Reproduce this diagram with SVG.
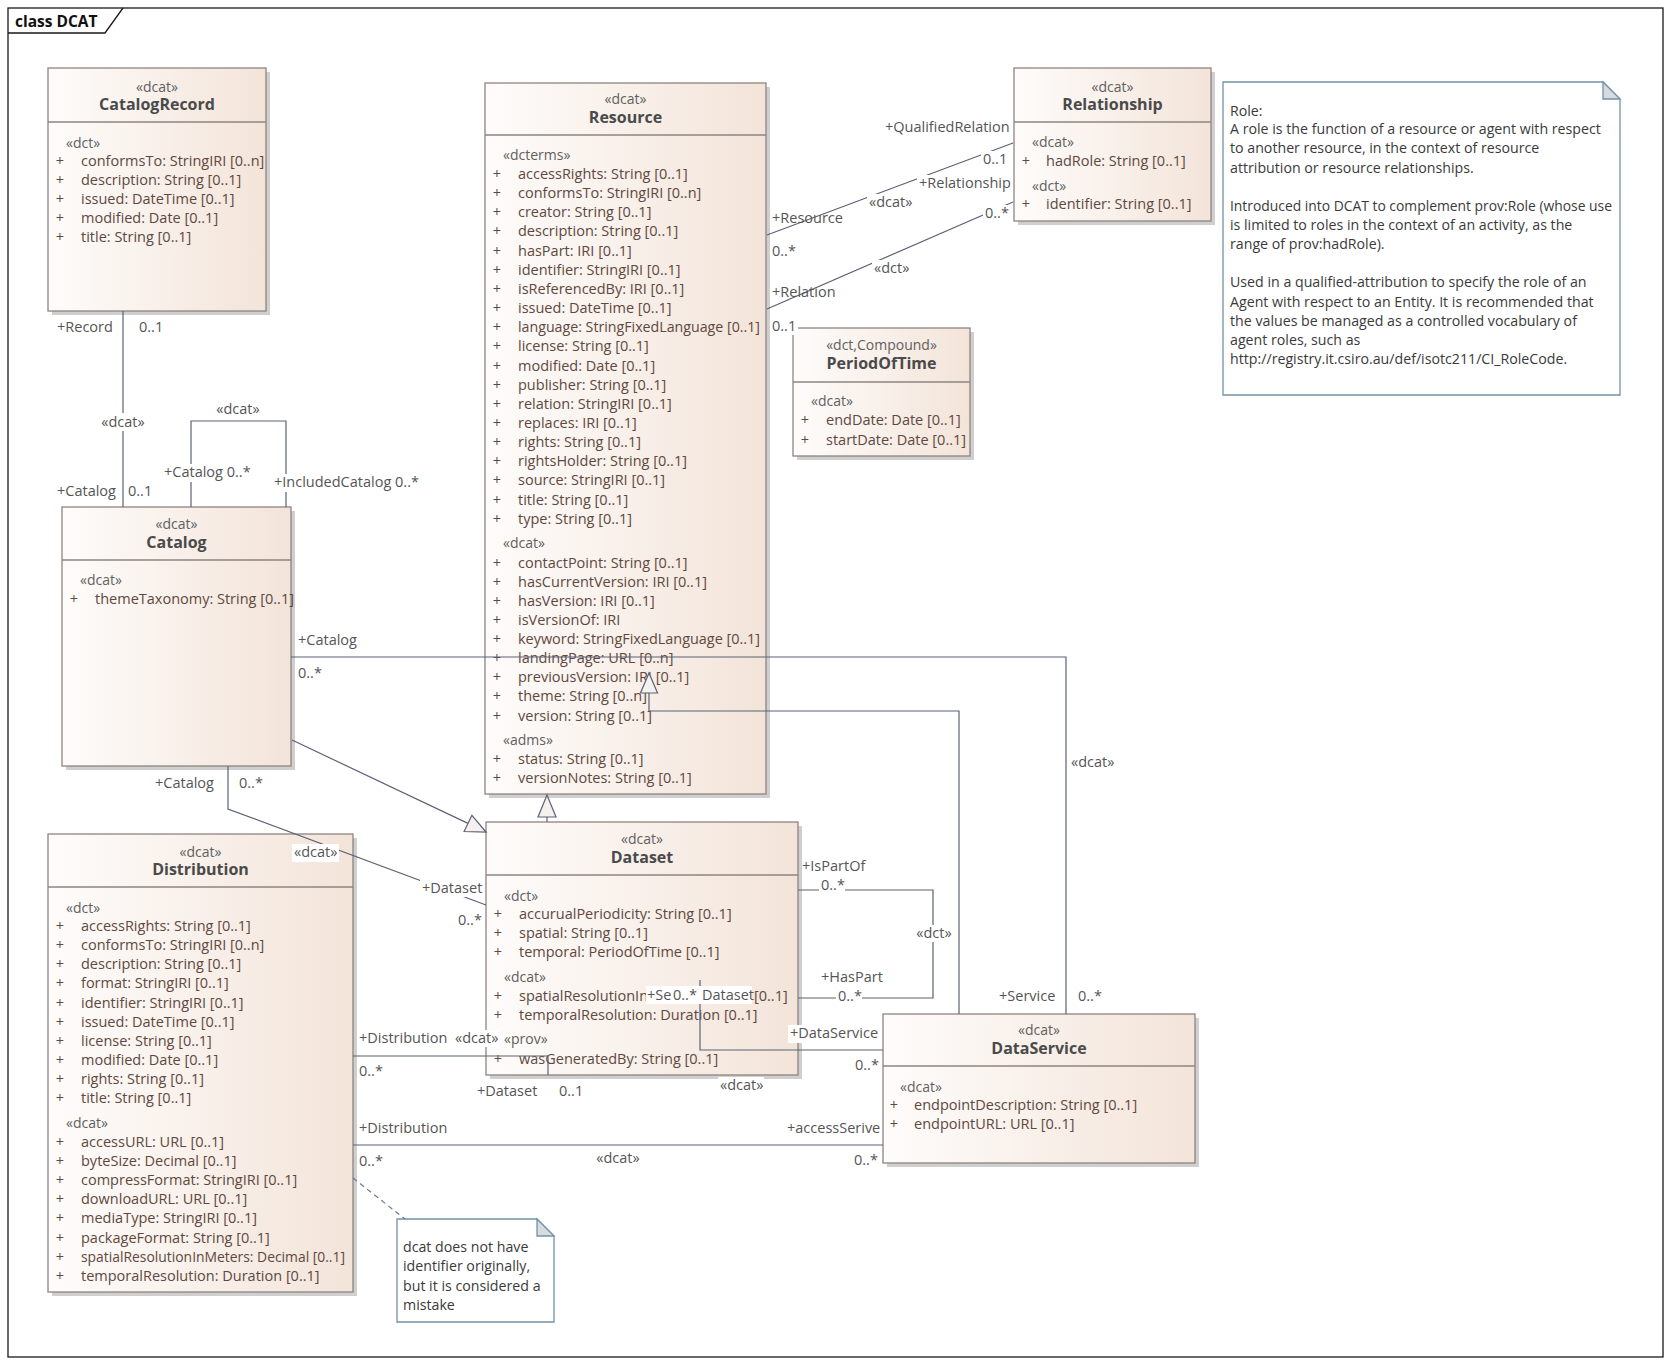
<svg xmlns="http://www.w3.org/2000/svg" width="1671" height="1365" viewBox="0 0 1671 1365">
<defs>
<linearGradient id="boxfill" x1="0" y1="0" x2="1" y2="0">
<stop offset="0" stop-color="#fefcfb"/>
<stop offset="1" stop-color="#f3e4d9"/>
</linearGradient>
<style>
text{font-family:"Open Sans","Liberation Sans",sans-serif;}
.box{fill:url(#boxfill);stroke:#8e8480;stroke-width:1.3;}
.shadow{fill:#cfcfcf;}
.div{stroke:#8e8480;stroke-width:1.3;}
.st{font-size:14px;fill:#5f5f5f;}
.stc{font-size:14px;fill:#5f5f5f;text-anchor:middle;}
.nm{font-size:16px;font-weight:bold;fill:#4a4a4a;text-anchor:middle;}
.at{font-size:14.5px;fill:#5e4840;}
.pl{font-size:14.5px;fill:#5e4840;text-anchor:middle;}
.lb{font-size:14.5px;fill:#555555;}
.lbc{font-size:14.5px;fill:#555555;text-anchor:middle;}
.nt{font-size:14.2px;fill:#3a3a3a;}
.conn{fill:none;stroke:#5b6275;stroke-width:1.2;}
.gen{fill:#f6f1ee;stroke:#5b6275;stroke-width:1.2;}
.dash{fill:none;stroke:#6a7890;stroke-width:1.2;stroke-dasharray:5,4;}
.note{fill:#ffffff;stroke:#7391a6;stroke-width:1.3;}
.fold{fill:#d5dbe1;stroke:#7391a6;stroke-width:1.3;}
.bg{fill:#ffffff;}
</style>
</defs>
<rect x="0" y="0" width="1671" height="1365" fill="#ffffff"/>

<g id="frame">
<rect x="8" y="8" width="1655" height="1349" fill="none" stroke="#1a1a1a" stroke-width="1.3"/>
<path d="M8,33 H105 L123,8" fill="none" stroke="#1a1a1a" stroke-width="1.3"/>
<text x="15" y="27" style="font-size:15.5px;font-weight:bold;fill:#111;">class DCAT</text>
</g>

<g id="node-CatalogRecord">
<rect class="shadow" x="52" y="72" width="218" height="243"/>
<rect class="box" x="48" y="68" width="218" height="243"/>
<line class="div" x1="48" y1="122" x2="266" y2="122"/>
<text class="stc" x="157" y="92">«dcat»</text>
<text class="nm" x="157" y="110">CatalogRecord</text>
<text class="st" x="66" y="148">«dct»</text>
<text class="pl" x="60" y="166">+</text><text class="at" x="81" y="166">conformsTo: StringIRI [0..n]</text>
<text class="pl" x="60" y="185">+</text><text class="at" x="81" y="185">description: String [0..1]</text>
<text class="pl" x="60" y="204">+</text><text class="at" x="81" y="204">issued: DateTime [0..1]</text>
<text class="pl" x="60" y="223">+</text><text class="at" x="81" y="223">modified: Date [0..1]</text>
<text class="pl" x="60" y="242">+</text><text class="at" x="81" y="242">title: String [0..1]</text>
</g>

<g id="node-Resource">
<rect class="shadow" x="489" y="87" width="281" height="711"/>
<rect class="box" x="485" y="83" width="281" height="711"/>
<line class="div" x1="485" y1="135" x2="766" y2="135"/>
<text class="stc" x="625.5" y="104">«dcat»</text>
<text class="nm" x="625.5" y="123">Resource</text>
<text class="st" x="503" y="160">«dcterms»</text>
<text class="pl" x="497" y="179">+</text><text class="at" x="518" y="179">accessRights: String [0..1]</text>
<text class="pl" x="497" y="198">+</text><text class="at" x="518" y="198">conformsTo: StringIRI [0..n]</text>
<text class="pl" x="497" y="217">+</text><text class="at" x="518" y="217">creator: String [0..1]</text>
<text class="pl" x="497" y="236">+</text><text class="at" x="518" y="236">description: String [0..1]</text>
<text class="pl" x="497" y="256">+</text><text class="at" x="518" y="256">hasPart: IRI [0..1]</text>
<text class="pl" x="497" y="275">+</text><text class="at" x="518" y="275">identifier: StringIRI [0..1]</text>
<text class="pl" x="497" y="294">+</text><text class="at" x="518" y="294">isReferencedBy: IRI [0..1]</text>
<text class="pl" x="497" y="313">+</text><text class="at" x="518" y="313">issued: DateTime [0..1]</text>
<text class="pl" x="497" y="332">+</text><text class="at" x="518" y="332" textLength="242" lengthAdjust="spacingAndGlyphs">language: StringFixedLanguage [0..1]</text>
<text class="pl" x="497" y="351">+</text><text class="at" x="518" y="351">license: String [0..1]</text>
<text class="pl" x="497" y="371">+</text><text class="at" x="518" y="371">modified: Date [0..1]</text>
<text class="pl" x="497" y="390">+</text><text class="at" x="518" y="390">publisher: String [0..1]</text>
<text class="pl" x="497" y="409">+</text><text class="at" x="518" y="409">relation: StringIRI [0..1]</text>
<text class="pl" x="497" y="428">+</text><text class="at" x="518" y="428">replaces: IRI [0..1]</text>
<text class="pl" x="497" y="447">+</text><text class="at" x="518" y="447">rights: String [0..1]</text>
<text class="pl" x="497" y="466">+</text><text class="at" x="518" y="466">rightsHolder: String [0..1]</text>
<text class="pl" x="497" y="485">+</text><text class="at" x="518" y="485">source: StringIRI [0..1]</text>
<text class="pl" x="497" y="505">+</text><text class="at" x="518" y="505">title: String [0..1]</text>
<text class="pl" x="497" y="524">+</text><text class="at" x="518" y="524">type: String [0..1]</text>
<text class="st" x="503" y="548">«dcat»</text>
<text class="pl" x="497" y="568">+</text><text class="at" x="518" y="568">contactPoint: String [0..1]</text>
<text class="pl" x="497" y="587">+</text><text class="at" x="518" y="587">hasCurrentVersion: IRI [0..1]</text>
<text class="pl" x="497" y="606">+</text><text class="at" x="518" y="606">hasVersion: IRI [0..1]</text>
<text class="pl" x="497" y="625">+</text><text class="at" x="518" y="625">isVersionOf: IRI</text>
<text class="pl" x="497" y="644">+</text><text class="at" x="518" y="644" textLength="242" lengthAdjust="spacingAndGlyphs">keyword: StringFixedLanguage [0..1]</text>
<text class="pl" x="497" y="663">+</text><text class="at" x="518" y="663">landingPage: URL [0..n]</text>
<text class="pl" x="497" y="682">+</text><text class="at" x="518" y="682">previousVersion: IRI [0..1]</text>
<text class="pl" x="497" y="701">+</text><text class="at" x="518" y="701">theme: String [0..n]</text>
<text class="pl" x="497" y="721">+</text><text class="at" x="518" y="721">version: String [0..1]</text>
<text class="st" x="503" y="745">«adms»</text>
<text class="pl" x="497" y="764">+</text><text class="at" x="518" y="764">status: String [0..1]</text>
<text class="pl" x="497" y="783">+</text><text class="at" x="518" y="783">versionNotes: String [0..1]</text>
</g>

<g id="node-Relationship">
<rect class="shadow" x="1018" y="72" width="197" height="153"/>
<rect class="box" x="1014" y="68" width="197" height="153"/>
<line class="div" x1="1014" y1="122" x2="1211" y2="122"/>
<text class="stc" x="1112.5" y="92">«dcat»</text>
<text class="nm" x="1112.5" y="110">Relationship</text>
<text class="st" x="1032" y="147">«dcat»</text>
<text class="pl" x="1026" y="166">+</text><text class="at" x="1046" y="166">hadRole: String [0..1]</text>
<text class="st" x="1032" y="191">«dct»</text>
<text class="pl" x="1026" y="209">+</text><text class="at" x="1046" y="209">identifier: String [0..1]</text>
</g>

<g id="node-RoleNote">
<path class="note" d="M1223,82 H1603 L1620,99 V395 H1223 Z"/>
<path class="fold" d="M1603,82 V99 H1620 Z"/>
<text class="nt" x="1230" y="116">Role:</text>
<text class="nt" x="1230" y="134">A role is the function of a resource or agent with respect</text>
<text class="nt" x="1230" y="153">to another resource, in the context of resource</text>
<text class="nt" x="1230" y="173">attribution or resource relationships.</text>
<text class="nt" x="1230" y="211" textLength="382" lengthAdjust="spacingAndGlyphs">Introduced into DCAT to complement prov:Role (whose use</text>
<text class="nt" x="1230" y="230">is limited to roles in the context of an activity, as the</text>
<text class="nt" x="1230" y="249">range of prov:hadRole).</text>
<text class="nt" x="1230" y="287">Used in a qualified-attribution to specify the role of an</text>
<text class="nt" x="1230" y="307">Agent with respect to an Entity. It is recommended that</text>
<text class="nt" x="1230" y="326">the values be managed as a controlled vocabulary of</text>
<text class="nt" x="1230" y="345">agent roles, such as</text>
<text class="nt" x="1230" y="364">http://registry.it.csiro.au/def/isotc211/CI_RoleCode.</text>
</g>

<g id="node-PeriodOfTime">
<rect class="shadow" x="797" y="332" width="177" height="128"/>
<rect class="box" x="793" y="328" width="177" height="128"/>
<line class="div" x1="793" y1="382" x2="970" y2="382"/>
<text class="stc" x="881.5" y="350">«dct,Compound»</text>
<text class="nm" x="881.5" y="369">PeriodOfTime</text>
<text class="st" x="811" y="406">«dcat»</text>
<text class="pl" x="805" y="425">+</text><text class="at" x="826" y="425">endDate: Date [0..1]</text>
<text class="pl" x="805" y="445">+</text><text class="at" x="826" y="445">startDate: Date [0..1]</text>
</g>

<g id="node-Catalog">
<rect class="shadow" x="66" y="511" width="229" height="259"/>
<rect class="box" x="62" y="507" width="229" height="259"/>
<line class="div" x1="62" y1="560" x2="291" y2="560"/>
<text class="stc" x="176.5" y="529">«dcat»</text>
<text class="nm" x="176.5" y="548">Catalog</text>
<text class="st" x="80" y="585">«dcat»</text>
<text class="pl" x="74" y="604">+</text><text class="at" x="95" y="604">themeTaxonomy: String [0..1]</text>
</g>

<g id="node-Dataset">
<rect class="shadow" x="490" y="826" width="312" height="253"/>
<rect class="box" x="486" y="822" width="312" height="253"/>
<line class="div" x1="486" y1="875" x2="798" y2="875"/>
<text class="stc" x="642" y="844">«dcat»</text>
<text class="nm" x="642" y="863">Dataset</text>
<text class="st" x="504" y="901">«dct»</text>
<text class="pl" x="498" y="919">+</text><text class="at" x="519" y="919">accurualPeriodicity: String [0..1]</text>
<text class="pl" x="498" y="938">+</text><text class="at" x="519" y="938">spatial: String [0..1]</text>
<text class="pl" x="498" y="957">+</text><text class="at" x="519" y="957">temporal: PeriodOfTime [0..1]</text>
<text class="st" x="504" y="982">«dcat»</text>
<text class="pl" x="498" y="1001">+</text><text class="at" x="519" y="1001">spatialResolutionIn</text><text class="at" x="754" y="1001">[0..1]</text>
<text class="pl" x="498" y="1020">+</text><text class="at" x="519" y="1020">temporalResolution: Duration [0..1]</text>
<text class="st" x="504" y="1044">«prov»</text>
<text class="pl" x="498" y="1064">+</text><text class="at" x="519" y="1064">wasGeneratedBy: String [0..1]</text>
</g>

<g id="node-Distribution">
<rect class="shadow" x="52" y="838" width="305" height="458"/>
<rect class="box" x="48" y="834" width="305" height="458"/>
<line class="div" x1="48" y1="887" x2="353" y2="887"/>
<text class="stc" x="200.5" y="857">«dcat»</text>
<text class="nm" x="200.5" y="875">Distribution</text>
<text class="st" x="66" y="913">«dct»</text>
<text class="pl" x="60" y="931">+</text><text class="at" x="81" y="931">accessRights: String [0..1]</text>
<text class="pl" x="60" y="950">+</text><text class="at" x="81" y="950">conformsTo: StringIRI [0..n]</text>
<text class="pl" x="60" y="969">+</text><text class="at" x="81" y="969">description: String [0..1]</text>
<text class="pl" x="60" y="988">+</text><text class="at" x="81" y="988">format: StringIRI [0..1]</text>
<text class="pl" x="60" y="1008">+</text><text class="at" x="81" y="1008">identifier: StringIRI [0..1]</text>
<text class="pl" x="60" y="1027">+</text><text class="at" x="81" y="1027">issued: DateTime [0..1]</text>
<text class="pl" x="60" y="1046">+</text><text class="at" x="81" y="1046">license: String [0..1]</text>
<text class="pl" x="60" y="1065">+</text><text class="at" x="81" y="1065">modified: Date [0..1]</text>
<text class="pl" x="60" y="1084">+</text><text class="at" x="81" y="1084">rights: String [0..1]</text>
<text class="pl" x="60" y="1103">+</text><text class="at" x="81" y="1103">title: String [0..1]</text>
<text class="st" x="66" y="1128">«dcat»</text>
<text class="pl" x="60" y="1147">+</text><text class="at" x="81" y="1147">accessURL: URL [0..1]</text>
<text class="pl" x="60" y="1166">+</text><text class="at" x="81" y="1166">byteSize: Decimal [0..1]</text>
<text class="pl" x="60" y="1185">+</text><text class="at" x="81" y="1185">compressFormat: StringIRI [0..1]</text>
<text class="pl" x="60" y="1204">+</text><text class="at" x="81" y="1204">downloadURL: URL [0..1]</text>
<text class="pl" x="60" y="1223">+</text><text class="at" x="81" y="1223">mediaType: StringIRI [0..1]</text>
<text class="pl" x="60" y="1243">+</text><text class="at" x="81" y="1243">packageFormat: String [0..1]</text>
<text class="pl" x="60" y="1262">+</text><text class="at" x="81" y="1262" textLength="264" lengthAdjust="spacingAndGlyphs">spatialResolutionInMeters: Decimal [0..1]</text>
<text class="pl" x="60" y="1281">+</text><text class="at" x="81" y="1281">temporalResolution: Duration [0..1]</text>
</g>

<g id="node-DataService">
<rect class="shadow" x="887" y="1018" width="312" height="149"/>
<rect class="box" x="883" y="1014" width="312" height="149"/>
<line class="div" x1="883" y1="1066" x2="1195" y2="1066"/>
<text class="stc" x="1039" y="1035">«dcat»</text>
<text class="nm" x="1039" y="1054">DataService</text>
<text class="st" x="900" y="1092">«dcat»</text>
<text class="pl" x="894" y="1110">+</text><text class="at" x="914" y="1110">endpointDescription: String [0..1]</text>
<text class="pl" x="894" y="1129">+</text><text class="at" x="914" y="1129">endpointURL: URL [0..1]</text>
</g>

<g id="node-IdentifierNote">
<path class="note" d="M397,1219 H537 L554,1236 V1322 H397 Z"/>
<path class="fold" d="M537,1219 V1236 H554 Z"/>
<text class="nt" x="403" y="1252">dcat does not have</text>
<text class="nt" x="403" y="1271">identifier originally,</text>
<text class="nt" x="403" y="1291">but it is considered a</text>
<text class="nt" x="403" y="1310">mistake</text>
</g>

<g id="connectors">
<path class="conn" d="M123,311 V507"/>
<path class="conn" d="M191,507 V421 H286 V507"/>
<path class="conn" d="M291,657 H1066 V1014"/>
<path class="conn" d="M292,740 L468,823.4"/>
<polygon class="gen" points="486,832 471.9,815.3 464.1,831.5"/>
<path class="conn" d="M547,822 V817"/>
<polygon class="gen" points="547,795 538,817 556,817"/>
<path class="conn" d="M959,1014 V711 H649 V693"/>
<polygon class="gen" points="649,673 640.5,693 657.5,693"/>
<path class="conn" d="M767,235 L1013,143"/>
<path class="conn" d="M767,309 L1013,202"/>
<path class="conn" d="M798,890 H933 V998 H798"/>
<path class="conn" d="M883,1050 H700 V980"/>
<path class="conn" d="M353,1056 H548 V1075"/>
<path class="conn" d="M353,1145 H883"/>
<path class="conn" d="M228,766 V809 L486,905"/>
<path class="dash" d="M353,1178 L405,1219"/>
</g>

<g id="labels">
<text class="lb" x="57" y="332">+Record</text>
<text class="lb" x="139" y="332">0..1</text>
<rect class="bg" x="100" y="413" width="46" height="18"/>
<text class="lbc" x="123" y="427">«dcat»</text>
<text class="lb" x="57" y="496">+Catalog</text>
<text class="lb" x="128" y="496">0..1</text>

<text class="lbc" x="238" y="414">«dcat»</text>
<rect class="bg" x="162" y="464" width="92" height="18"/>
<text class="lb" x="164" y="477">+Catalog 0..*</text>
<rect class="bg" x="272" y="474" width="152" height="18"/>
<text class="lb" x="274" y="487">+IncludedCatalog 0..*</text>

<text class="lb" x="298" y="645">+Catalog</text>
<text class="lb" x="298" y="678">0..*</text>
<text class="lb" x="1071" y="767">«dcat»</text>
<text class="lb" x="999" y="1001">+Service</text>
<text class="lb" x="1078" y="1001">0..*</text>

<text class="lb" x="772" y="223">+Resource</text>
<text class="lb" x="772" y="256">0..*</text>
<rect class="bg" x="867" y="194" width="46" height="17"/>
<text class="lb" x="869" y="207">«dcat»</text>
<text class="lb" x="885" y="132">+QualifiedRelation</text>
<rect class="bg" x="981" y="151" width="28" height="17"/>
<text class="lb" x="983" y="164">0..1</text>

<text class="lb" x="772" y="297">+Relation</text>
<rect class="bg" x="770" y="318" width="28" height="17"/>
<text class="lb" x="772" y="331">0..1</text>
<rect class="bg" x="872" y="260" width="38" height="17"/>
<text class="lb" x="874" y="273">«dct»</text>
<rect class="bg" x="917" y="175" width="96" height="17"/>
<text class="lb" x="919" y="188">+Relationship</text>
<rect class="bg" x="983" y="205" width="26" height="17"/>
<text class="lb" x="985" y="218">0..*</text>

<text class="lb" x="802" y="871">+IsPartOf</text>
<rect class="bg" x="819" y="878" width="26" height="16"/>
<text class="lb" x="821" y="890">0..*</text>
<rect class="bg" x="914" y="925" width="40" height="17"/>
<text class="lbc" x="934" y="938">«dct»</text>
<text class="lb" x="821" y="982">+HasPart</text>
<rect class="bg" x="836" y="989" width="26" height="16"/>
<text class="lb" x="838" y="1001">0..*</text>

<rect class="bg" x="788" y="1025" width="92" height="18"/>
<text class="lb" x="790" y="1038">+DataService</text>
<text class="lb" x="855" y="1070">0..*</text>
<rect class="bg" x="646" y="986" width="106" height="18"/>
<text class="lb" x="647" y="1000">+Se</text>
<text class="lb" x="673" y="1000">0..*</text>
<text class="lb" x="702" y="1000">Dataset</text>
<rect class="bg" x="718" y="1077" width="46" height="18"/>
<text class="lb" x="720" y="1090">«dcat»</text>

<text class="lb" x="359" y="1043">+Distribution</text>
<rect class="bg" x="453" y="1030" width="46" height="17"/>
<text class="lb" x="455" y="1043">«dcat»</text>
<text class="lb" x="359" y="1076">0..*</text>
<text class="lb" x="477" y="1096">+Dataset</text>
<text class="lb" x="559" y="1096">0..1</text>

<text class="lb" x="359" y="1133">+Distribution</text>
<text class="lb" x="359" y="1166">0..*</text>
<text class="lbc" x="618" y="1163">«dcat»</text>
<text class="lb" x="787" y="1133">+accessSerive</text>
<text class="lb" x="854" y="1165">0..*</text>

<text class="lb" x="155" y="788">+Catalog</text>
<text class="lb" x="239" y="788">0..*</text>
<rect class="bg" x="292" y="844" width="47" height="18"/>
<text class="lb" x="294" y="857">«dcat»</text>
<rect class="bg" x="420" y="880" width="64" height="17"/>
<text class="lb" x="422" y="893">+Dataset</text>
<text class="lb" x="458" y="925">0..*</text>
</g>
</svg>
